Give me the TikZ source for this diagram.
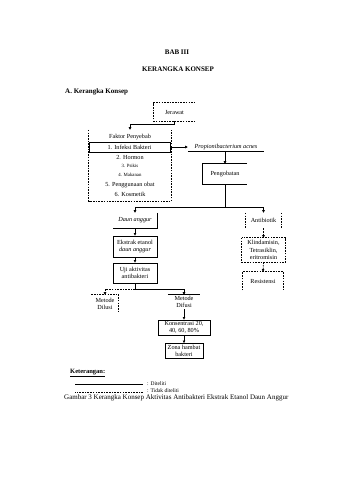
\documentclass[tikz,border=0pt]{standalone}
\usepackage{fontspec}
\setmainfont{Liberation Serif}
\usetikzlibrary{arrows.meta}
\newcommand{\dfont}{\fontsize{6.2}{7.3}\selectfont}
\newcommand{\sfont}{\fontsize{4.8}{6}\selectfont}
\begin{document}
\begin{tikzpicture}[x=1pt,y=-1pt]
\tikzset{
  t/.style={inner sep=0pt, align=center, font=\dfont},
  wh/.style 2 args={minimum width=#1pt, minimum height=#2pt},
  ln/.style={line width=0.7pt},
  dl/.style={line width=0.7pt, dash pattern=on 1.6pt off 1.1pt},
  arr/.style={-{Triangle[length=2.6pt,width=2.4pt]}},
  ttl/.style={inner sep=0pt, font=\fontsize{7}{8}\selectfont\bfseries},
}
\useasboundingbox[fill=white] (0,0) rectangle (339,480);

% titles
\node[ttl] (bab) at (177,52) {BAB III};
\node[ttl] (kk) at (178,69) {KERANGKA KONSEP};
\node[ttl, anchor=west] (sec) at (65,92) {A. Kerangka Konsep};

% Jerawat
\node[t, wh={41}{18}] (jer) at (174.5,112) {Jerawat};
\draw[dl] (jer.south east) -- (jer.south west) -- (jer.north west) -- (jer.north east);

% Faktor penyebab block
\node[wh={82}{71}, inner sep=0pt] (faktor) at (130,165.5) {};
\draw[dl] (faktor.north west) -- (faktor.south west) -- (faktor.south east) -- (faktor.north east);
\node[t] (fp) at (130,137) {Faktor Penyebab};
\node[t, wh={81}{10}, draw, ln] (inf) at (129.5,147) {1. Infeksi Bakteri};
\node[t] (f2) at (130,157) {2. Hormon};
\node[t, font=\sfont] (f3) at (130,166) {3. Psikis};
\node[t, font=\sfont] (f4) at (130,175) {4. Makanan};
\node[t] (f5) at (130,185) {5. Penggunaan obat};
\node[t] (f6) at (130,194) {6. Kosmetik};
\draw[ln, arr] (jer.south) -- ++(0,3) -| (faktor.north);

% Propionibacterium
\node[t, wh={76}{8}] (prop) at (226,147) {\itshape Propionibacterium acnes};
\draw[ln] (prop.south west) -- (prop.south east);
\draw[ln, arr] (inf.east) -- (prop.west);

% Pengobatan
\node[t, wh={44}{20}] (peng) at (225,174) {Pengobatan};
\draw[ln] (peng.north east) -- (peng.north west) -- (peng.south west) -- (peng.south east);
\draw[ln, arr] (prop.south -| peng.north) -- (peng.north);

% split
\coordinate (jn) at (225,207);
\node[t, wh={44}{15}] (daun) at (135,220.5) {\itshape Daun anggur};
\draw[ln] (daun.north east) -- (daun.south east) -- (daun.south west);
\node[t, wh={35}{15}] (antib) at (263.5,220.5) {Antibiotik};
\draw[dl] (antib.north west) -- (antib.south west);
\draw[dl] (antib.north east) -- (antib.south east);
\draw[ln] (peng.south) -- (jn);
\draw[ln] (daun.north |- jn) -- (antib.north |- jn);
\draw[ln, arr] (daun.north |- jn) -- (daun.north);
\draw[ln, arr] (antib.north |- jn) -- (antib.north);

% left chain
\node[t, wh={44}{21}, draw, ln] (ekst) at (135,246.5) {Ekstrak etanol\\\itshape daun anggur};
\node[t, wh={44}{20}, draw, ln] (uji) at (135,273) {Uji aktivitas\\antibakteri};
\draw[ln, arr] (daun.south) -- (ekst.north);
\draw[ln, arr] (ekst.south) -- (uji.north);

\coordinate (sp) at (135,289);
\node[t, wh={27}{18}] (dil) at (105,304) {Metode\\Dilusi};
\draw[dl] (dil.north west) -- (dil.north east) -- (dil.south east);
\node[t, wh={32}{14}] (dif) at (184,302) {Metode\\Difusi};
\draw[ln] (dif.north west) -- (dif.north east);
\draw[ln] (uji.south) -- (sp);
\draw[dl] (sp) -- (sp -| dil.north);
\draw[dl, arr] (sp -| dil.north) -- (dil.north);
\draw[ln] (sp) -- (sp -| dif.north);
\draw[ln, arr] (sp -| dif.north) -- (dif.north);

\node[t, wh={52}{15}, draw, ln, font=\fontsize{6.2}{6.4}\selectfont] (kons) at (184,327.5) {Konsentrasi 20,\\40, 60, 80\%};
\node[t, wh={38}{15}, draw, ln, font=\fontsize{6.2}{6.6}\selectfont] (zona) at (184,351) {Zona hambat\\bakteri};
\draw[ln, arr] (dif.south) -- (kons.north);
\draw[ln, arr] (kons.south) -- (zona.north);

% right chain
\node[t, wh={43}{24}] (klin) at (263.5,250) {Klindamisin,\\Tetrasiklin,\\eritromisin};
\draw[dl] (klin.north west) rectangle (klin.south east);
\node[t, wh={40}{18}] (res) at (263,281) {Resistensi};
\draw[dl] (res.south west) -- (res.north west) -- (res.north east) -- (res.south east);
\draw[dl, arr] (antib.south) -- (klin.north);
\draw[dl, arr] (klin.south) -- (res.north);

% legend
\node[anchor=west, inner sep=0pt, font=\fontsize{6.5}{7.5}\selectfont\bfseries] (ket) at (70,373) {\underline{Keterangan:}};
\node[anchor=west, inner sep=0pt, font=\fontsize{5.5}{6.5}\selectfont] (lg1) at (147,384) {: Diteliti};
\node[anchor=west, inner sep=0pt, font=\fontsize{5.5}{6.5}\selectfont] (lg2) at (147,390.5) {: Tidak diteliti};
\draw[ln] ([xshift=-4pt]lg1.west) -- ++(-68,0);
\draw[dl] ([xshift=-4pt,yshift=-1.5pt]lg2.west) -- ++(-68,0);

\node[anchor=west, inner sep=0pt, font=\fontsize{7}{8}\selectfont] (cap) at (64,398) {Gambar 3 Kerangka Konsep Aktivitas Antibakteri Ekstrak Etanol Daun Anggur};
\end{tikzpicture}
\end{document}
